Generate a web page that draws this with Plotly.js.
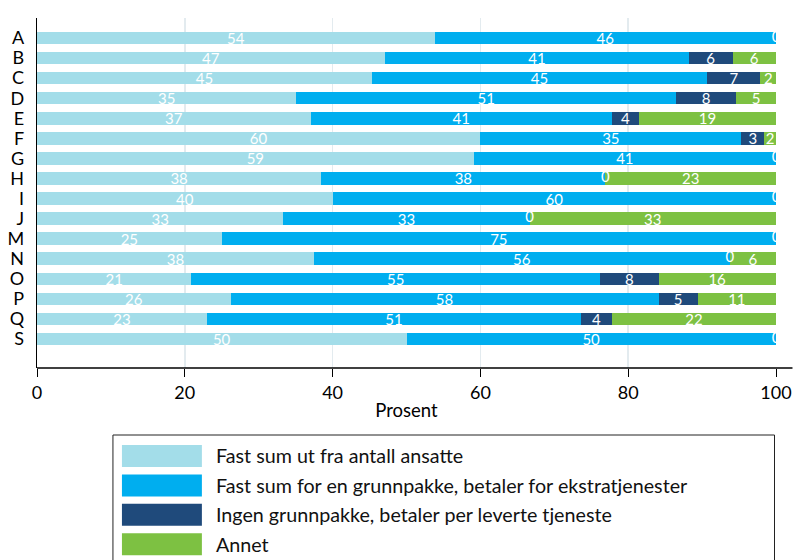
<!DOCTYPE html>
<html>
<head>
<meta charset="utf-8">
<script src="https://cdn.plot.ly/plotly-3.0.1.min.js"></script>
<style>
  html, body { margin: 0; padding: 0; background: #fff; }
  #chart { width: 793px; height: 560px; }
</style>
</head>
<body>
<div id="chart"></div>
<script>
// Units, top to bottom
const categories = ['A', 'B', 'C', 'D', 'E', 'F', 'G', 'H', 'I', 'J', 'M', 'N', 'O', 'P', 'Q', 'S'];

const seriesNames = [
  'Fast sum ut fra antall ansatte',
  'Fast sum for en grunnpakke, betaler for ekstratjenester',
  'Ingen grunnpakke, betaler per leverte tjeneste',
  'Annet'
];

// Share of units (percent) per payment model
const fastAnsatte     = [53.8, 47.06, 45.3, 35.1, 37.04, 60.0, 59.1, 38.46, 40, 33.33, 25, 37.5, 20.9, 26.2, 23.0, 50];
const fastGrunnpakke  = [46.2, 41.18, 45.4, 51.4, 40.74, 35.3, 40.9, 38.46, 60, 33.33, 75, 56.25, 55.3, 57.9, 50.6, 50];
const ingenGrunnpakke = [0, 5.88, 7.2, 8.1, 3.70, 3.1, 0, 0, 0, 0, 0, 0, 7.9, 5.3, 4.2, 0];
const annet           = [null, 5.88, 2.1, 5.4, 18.52, 1.6, null, 23.08, null, 33.34, null, 6.25, 15.9, 10.6, 22.2, null];

const xTicks = [0, 20, 40, 60, 80, 100];
const xTitle = 'Prosent';

const colors = ['#A3DDE9', '#00AEEF', '#1F4A7B', '#7DC142'];
const seriesValues = [fastAnsatte, fastGrunnpakke, ingenGrunnpakke, annet];

const FONT = 'Lato, Carlito, "Open Sans", sans-serif';
const LABEL_SIZE = 15;

const traces = seriesValues.map((vals, k) => ({
  type: 'bar',
  orientation: 'h',
  name: seriesNames[k],
  x: vals,
  y: categories,
  marker: { color: colors[k], line: { width: 0 } },
  texttemplate: '%{x:.0f}',
  textposition: 'inside',
  textangle: 0,
  insidetextanchor: 'middle',
  constraintext: 'none',
  insidetextfont: { family: FONT, size: LABEL_SIZE, color: '#FFFFFF' },
  hoverinfo: 'x+y+name',
  showlegend: false
}));

// Zero shares get a "0" at their (empty) position in the stack
const zeroX = [], zeroY = [], zeroText = [];
categories.forEach((cat, i) => {
  let cum = 0;
  seriesValues.forEach(vals => {
    const v = vals[i];
    if (v === 0) { zeroX.push(cum); zeroY.push(cat); zeroText.push(v.toFixed(0)); }
    if (v) cum += v;
  });
});
traces.push({
  type: 'scatter',
  mode: 'text',
  x: zeroX,
  y: zeroY,
  text: zeroText,
  textposition: 'middle center',
  textfont: { family: FONT, size: LABEL_SIZE, color: '#FFFFFF' },
  hoverinfo: 'skip',
  showlegend: false,
  cliponaxis: true
});

// Plot-area geometry (pixels) used for the legend box
const W = 793, H = 560, ML = 37, MR = 16.5, MT = 18, MB = 192;
const PW = W - ML - MR, PH = H - MT - MB;
const px = v => (v - ML) / PW;
const py = v => (H - MB - v) / PH;

const shapes = [
  // x axis line, running a little past the last tick
  { type: 'line', xref: 'paper', yref: 'paper', x0: 0, x1: px(793), y0: 0, y1: 0,
    line: { color: '#000', width: 1.3 } },
  // legend frame
  { type: 'rect', xref: 'paper', yref: 'paper', x0: px(113), x1: px(775), y0: py(435), y1: py(575),
    line: { color: '#222', width: 1 }, fillcolor: 'rgba(0,0,0,0)' }
];
const annotations = [];
const rowTop = 445, rowStep = 29.4, swH = 22;
seriesNames.forEach((name, k) => {
  const top = rowTop + k * rowStep;
  shapes.push({ type: 'rect', xref: 'paper', yref: 'paper',
    x0: px(122), x1: px(202), y0: py(top), y1: py(top + swH),
    line: { width: 0 }, fillcolor: colors[k] });
  annotations.push({ xref: 'paper', yref: 'paper', x: px(214), y: py(top + swH / 2),
    xanchor: 'left', yanchor: 'middle', showarrow: false, text: name,
    font: { family: FONT, size: 19.7, color: '#111' } });
});

const layout = {
  width: W, height: H,
  margin: { l: ML, r: MR, t: MT, b: MB, pad: 0 },
  paper_bgcolor: '#fff', plot_bgcolor: '#fff',
  barmode: 'stack', bargap: 0.38,
  showlegend: false,
  font: { family: FONT, color: '#000' },
  xaxis: {
    range: [0, 100], tickvals: xTicks, ticktext: xTicks.map(String),
    showgrid: true, gridcolor: '#E3EBEF', gridwidth: 1.5,
    zeroline: false, showline: false,
    ticks: 'outside', ticklen: 8, tickwidth: 1, tickcolor: '#000',
    tickfont: { family: FONT, size: 18, color: '#000' },
    title: { text: xTitle, font: { family: FONT, size: 18.5, color: '#000' }, standoff: 2 },
    fixedrange: true
  },
  yaxis: {
    type: 'category', categoryorder: 'array', categoryarray: categories,
    tickmode: 'array', tickvals: categories, ticktext: categories,
    range: [16.45, -1.0],
    showgrid: false, zeroline: false,
    showline: true, linecolor: '#000', linewidth: 1.3,
    ticks: '', ticklabelstandoff: 8,
    tickfont: { family: FONT, size: 18, color: '#000' },
    fixedrange: true
  },
  shapes: shapes,
  annotations: annotations
};

Plotly.newPlot('chart', traces, layout, { displayModeBar: false, staticPlot: true });
</script>
</body>
</html>
